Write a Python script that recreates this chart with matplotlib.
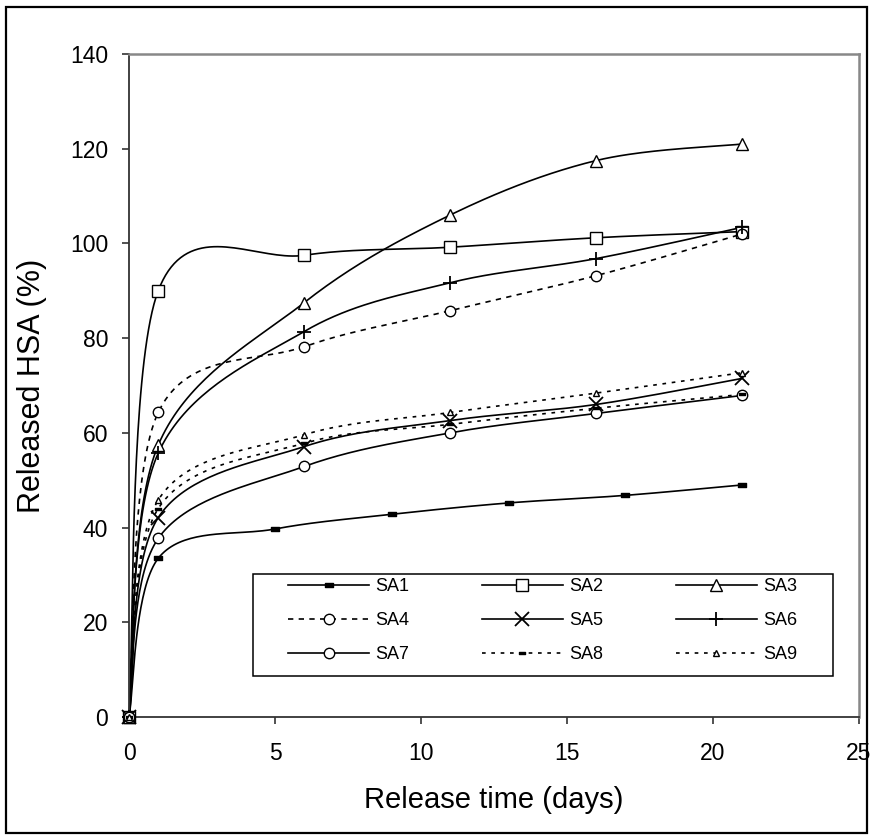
"""
Cumulative HSA release from SA1-SA9 formulations, drawn the way Excel draws
smoothed XY-scatter lines (Bezier segments through every point).
"""

import numpy as np
import matplotlib.pyplot as plt
from matplotlib.patches import Rectangle
from matplotlib.path import Path

plt.rcParams["font.family"] = ["Liberation Sans", "DejaVu Sans"]

# release time (days)
days = [0, 1, 6, 11, 16, 21]
days_sa1 = [0, 1, 5, 9, 13, 17, 21]

# released HSA (%)
sa1 = [0, 33.5, 39.7, 42.8, 45.2, 46.8, 49.0]
sa2 = [0, 90.0, 97.5, 99.2, 101.2, 102.5]
sa3 = [0, 57.4, 87.5, 106.0, 117.5, 121.0]
sa4 = [0, 64.3, 78.2, 85.8, 93.2, 102.0]
sa5 = [0, 42.1, 57.1, 62.6, 66.0, 71.5]
sa6 = [0, 55.7, 81.4, 91.7, 96.8, 103.4]
sa7 = [0, 37.7, 52.9, 60.0, 64.1, 67.9]
sa8 = [0, 44.0, 57.8, 61.8, 65.2, 68.1]
sa9 = [0, 45.8, 59.6, 64.3, 68.4, 72.7]

labels = ["SA1", "SA2", "SA3", "SA4", "SA5", "SA6", "SA7", "SA8", "SA9"]


def excel_smooth(x, y, steps=40):
    # Catmull-Rom style Bezier, same construction Excel uses for smoothed lines
    pts = np.column_stack([x, y]).astype(float)
    n = len(pts)
    out = [pts[0]]
    s = np.linspace(0, 1, steps)[1:, None]
    for i in range(n - 1):
        p0 = pts[max(i - 1, 0)]
        p1 = pts[i]
        p2 = pts[i + 1]
        p3 = pts[min(i + 2, n - 1)]
        c1 = p1 + (p2 - p0) / 6.0
        c2 = p2 - (p3 - p1) / 6.0
        seg = ((1 - s) ** 3) * p1 + 3 * ((1 - s) ** 2) * s * c1 \
            + 3 * (1 - s) * (s ** 2) * c2 + (s ** 3) * p2
        out.extend(seg)
    out = np.array(out)
    return out[:, 0], out[:, 1]


# small flat dash used as the SA1 / SA8 marker
dash = Path([(-1, -0.45), (1, -0.45), (1, 0.45), (-1, 0.45), (-1, -0.45)],
            [Path.MOVETO, Path.LINETO, Path.LINETO, Path.LINETO, Path.CLOSEPOLY])

solid = "-"
dashed = (0, (3.2, 3.2))
dotted = (0, (2.2, 3.4))

series = [
    (days_sa1, sa1, solid, dict(marker=dash, ms=5.5, mfc="black")),
    (days, sa2, solid, dict(marker="s", ms=8, mfc="white")),
    (days, sa3, solid, dict(marker="^", ms=9, mfc="white")),
    (days, sa4, dashed, dict(marker="o", ms=7.5, mfc="white")),
    (days, sa5, solid, dict(marker="x", ms=9.5, mew=1.3)),
    (days, sa6, solid, dict(marker="+", ms=10.5, mew=1.3)),
    (days, sa7, solid, dict(marker="o", ms=7.5, mfc="white")),
    (days, sa8, dotted, dict(marker=dash, ms=3.8, mfc="black")),
    (days, sa9, dotted, dict(marker="^", ms=5, mfc="white")),
]

fig = plt.figure(figsize=(8.74, 8.40), dpi=100)
ax = fig.add_axes([129 / 874, 1 - 717 / 840, 730 / 874, 663 / 840])

handles = []
for (t, v, ls, mk), name in zip(series, labels):
    xs, ys = excel_smooth(t, v)
    ax.plot(xs, ys, color="black", lw=1.2, ls=ls, clip_on=False, zorder=2)
    ax.plot(t, v, ls="none", color="black", mec="black", clip_on=False,
            zorder=3, **mk)
    h, = ax.plot([], [], color="black", lw=1.2, ls=ls, mec="black", **mk)
    handles.append((h, name))

ax.set_xlim(0, 25)
ax.set_ylim(0, 140)
ax.set_xticks(range(0, 26, 5))
ax.set_yticks(range(0, 141, 20))
ax.tick_params(direction="out", length=5, width=1.2, labelsize=16.5,
               color="#333333")
ax.tick_params(axis="x", pad=13)
ax.tick_params(axis="y", pad=10)
ax.set_xlabel("Release time (days)", fontsize=21)
ax.set_ylabel("Released HSA (%)", fontsize=22)
ax.xaxis.set_label_coords(0.5, -0.104)
ax.yaxis.set_label_coords(-0.113, 0.5)

for side in ("left", "bottom"):
    ax.spines[side].set_color("#333333")
    ax.spines[side].set_linewidth(1.3)
for side in ("top", "right"):
    ax.spines[side].set_color("#888888")
    ax.spines[side].set_linewidth(1.8)

# legend: Excel fills row by row, matplotlib column by column
order = [0, 3, 6, 1, 4, 7, 2, 5, 8]
leg = ax.legend([handles[i][0] for i in order], [handles[i][1] for i in order],
                ncol=3, loc="upper left", frameon=False, fontsize=13,
                bbox_to_anchor=((288 - 129) / 730, (717 - 578) / 663),
                borderaxespad=0, borderpad=0, handlelength=4.5,
                handletextpad=0.35, columnspacing=4.0, labelspacing=0.95)
ax.add_patch(Rectangle(((253 - 129) / 730, (717 - 676) / 663),
                       580 / 730, 102 / 663, transform=ax.transAxes,
                       fill=False, ec="black", lw=1.1, zorder=4))

# chart-area border
fig.patches.append(Rectangle((6 / 874, 7 / 840), 861 / 874, 826 / 840,
                             transform=fig.transFigure, fill=False,
                             ec="black", lw=1.6))

fig.savefig("out.png", dpi=100)
